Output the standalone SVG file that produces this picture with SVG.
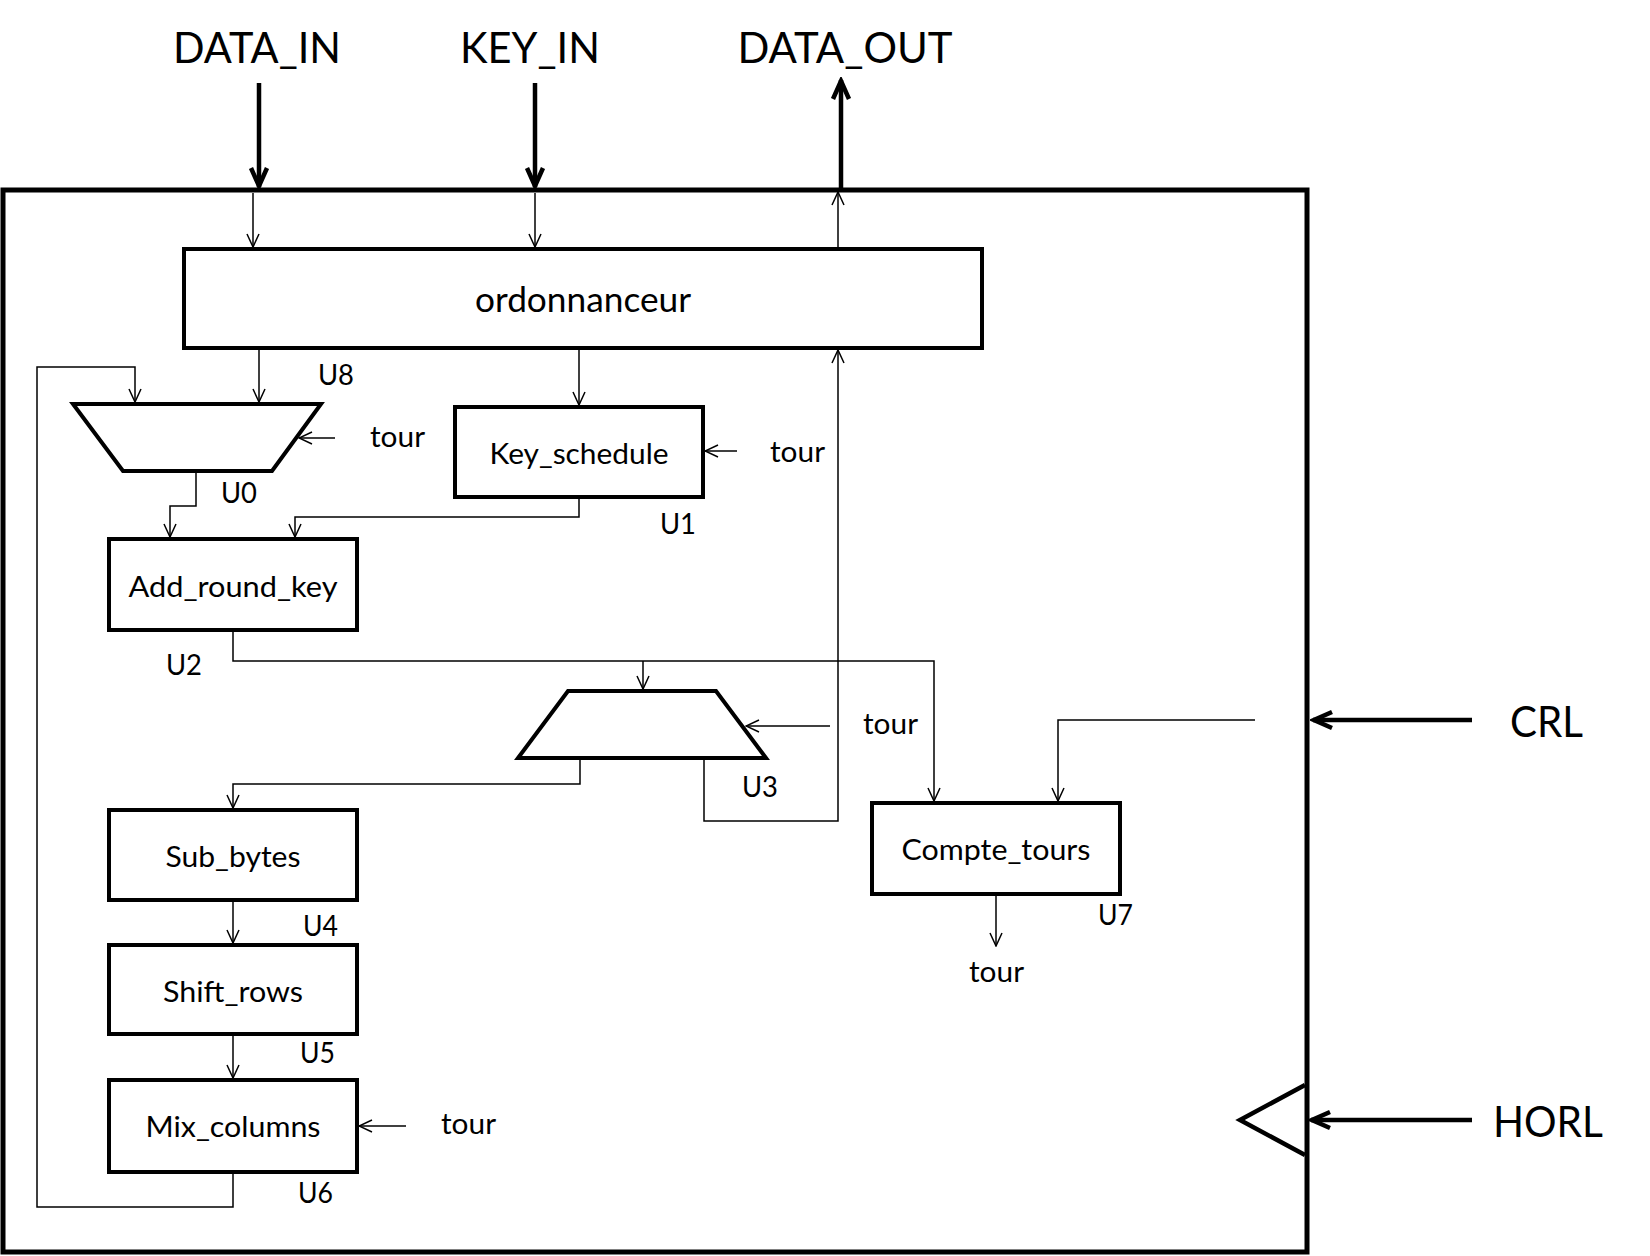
<svg xmlns="http://www.w3.org/2000/svg" width="1650" height="1256" viewBox="0 0 1650 1256">
  <style>
    .box { fill: #fff; stroke: #000; stroke-width: 4; }
    .frame { fill: none; stroke: #000; stroke-width: 5; }
    .wire { fill: none; stroke: #000; stroke-width: 1.5; }
    .bus { fill: none; stroke: #000; stroke-width: 4.5; }
    text { font-family: Lato, "Open Sans", "Liberation Sans", sans-serif; fill: #000; }
    .big { font-size: 43px; }
    .title { font-size: 34px; text-anchor: middle; }
    .name { font-size: 29.5px; text-anchor: middle; }
    .ref { font-size: 29px; }
    .sig { font-size: 29.5px; }
  </style>
  <defs>
    <marker id="arr" markerUnits="userSpaceOnUse" viewBox="0 0 16 16" refX="15" refY="8" markerWidth="16" markerHeight="16" orient="auto">
      <path d="M2,2 L15,8 L2,14" fill="none" stroke="#000" stroke-width="1.5"/>
    </marker>
    <marker id="arrBold" markerUnits="userSpaceOnUse" viewBox="0 0 26 24" refX="23" refY="12" markerWidth="26" markerHeight="24" orient="auto">
      <path d="M4,4 L22,12 L4,20" fill="none" stroke="#000" stroke-width="4.5" stroke-linejoin="miter"/>
    </marker>
  </defs>

  <!-- top-level entity frame -->
  <g id="frame">
    <rect class="frame" x="3" y="190" width="1304" height="1062"/>
    <polyline class="bus" points="1305,1085 1240,1120 1305,1155" stroke-width="4"/>
  </g>

  <!-- components -->
  <g id="U8">
    <rect class="box" x="184" y="249" width="798" height="99"/>
    <text class="title" x="583" y="312" textLength="216" lengthAdjust="spacingAndGlyphs">ordonnanceur</text>
    <text class="ref" x="318" y="385" textLength="36" lengthAdjust="spacingAndGlyphs">U8</text>
  </g>
  <g id="U0">
    <polygon class="box" points="73,404 321,404 272,471 123,471"/>
    <text class="ref" x="221" y="503" textLength="36" lengthAdjust="spacingAndGlyphs">U0</text>
  </g>
  <g id="U1">
    <rect class="box" x="455" y="407" width="248" height="90"/>
    <text class="name" x="579" y="464" textLength="179" lengthAdjust="spacingAndGlyphs">Key_schedule</text>
    <text class="ref" x="660" y="534" textLength="36" lengthAdjust="spacingAndGlyphs">U1</text>
  </g>
  <g id="U2">
    <rect class="box" x="109" y="539" width="248" height="91"/>
    <text class="name" x="233" y="597" textLength="209" lengthAdjust="spacingAndGlyphs">Add_round_key</text>
    <text class="ref" x="166" y="675" textLength="36" lengthAdjust="spacingAndGlyphs">U2</text>
  </g>
  <g id="U3">
    <polygon class="box" points="568,691 716,691 766,758 518,758"/>
    <text class="ref" x="742" y="797" textLength="36" lengthAdjust="spacingAndGlyphs">U3</text>
  </g>
  <g id="U4">
    <rect class="box" x="109" y="810" width="248" height="90"/>
    <text class="name" x="233" y="867" textLength="135" lengthAdjust="spacingAndGlyphs">Sub_bytes</text>
    <text class="ref" x="303" y="936" textLength="35" lengthAdjust="spacingAndGlyphs">U4</text>
  </g>
  <g id="U5">
    <rect class="box" x="109" y="945" width="248" height="89"/>
    <text class="name" x="233" y="1002" textLength="140" lengthAdjust="spacingAndGlyphs">Shift_rows</text>
    <text class="ref" x="300" y="1063" textLength="35" lengthAdjust="spacingAndGlyphs">U5</text>
  </g>
  <g id="U6">
    <rect class="box" x="109" y="1080" width="248" height="92"/>
    <text class="name" x="233" y="1137" textLength="175" lengthAdjust="spacingAndGlyphs">Mix_columns</text>
    <text class="ref" x="298" y="1203" textLength="35" lengthAdjust="spacingAndGlyphs">U6</text>
  </g>
  <g id="U7">
    <rect class="box" x="872" y="803" width="248" height="91"/>
    <text class="name" x="996" y="860" textLength="189" lengthAdjust="spacingAndGlyphs">Compte_tours</text>
    <text class="ref" x="1098" y="925" textLength="35" lengthAdjust="spacingAndGlyphs">U7</text>
  </g>

  <!-- port names and signal labels -->
  <g id="labels">
    <text class="big" x="257" y="63" text-anchor="middle" textLength="168" lengthAdjust="spacingAndGlyphs">DATA_IN</text>
    <text class="big" x="530" y="63" text-anchor="middle" textLength="140" lengthAdjust="spacingAndGlyphs">KEY_IN</text>
    <text class="big" x="845" y="63" text-anchor="middle" textLength="215" lengthAdjust="spacingAndGlyphs">DATA_OUT</text>
    <text class="big" x="1510" y="737" textLength="73" lengthAdjust="spacingAndGlyphs">CRL</text>
    <text class="big" x="1493" y="1137" textLength="110" lengthAdjust="spacingAndGlyphs">HORL</text>
    <text class="sig" x="370" y="447" textLength="55" lengthAdjust="spacingAndGlyphs">tour</text>
    <text class="sig" x="770" y="462" textLength="55" lengthAdjust="spacingAndGlyphs">tour</text>
    <text class="sig" x="863" y="734" textLength="55" lengthAdjust="spacingAndGlyphs">tour</text>
    <text class="sig" x="441" y="1134" textLength="55" lengthAdjust="spacingAndGlyphs">tour</text>
    <text class="sig" x="969" y="982" textLength="55" lengthAdjust="spacingAndGlyphs">tour</text>
  </g>

  <!-- connectors -->
  <g id="connectors">
    <!-- external ports -->
    <path class="bus" d="M259,83 V187" marker-end="url(#arrBold)"/>
    <path class="bus" d="M535,83 V187" marker-end="url(#arrBold)"/>
    <path class="bus" d="M841,190 V80" marker-end="url(#arrBold)"/>
    <path class="bus" d="M1472,720 H1313" marker-end="url(#arrBold)"/>
    <path class="bus" d="M1472,1120 H1311" marker-end="url(#arrBold)"/>

    <!-- internal wiring -->
    <path class="wire" d="M253,193 V247" marker-end="url(#arr)"/>
    <path class="wire" d="M535,193 V247" marker-end="url(#arr)"/>
    <path class="wire" d="M838,247 V192" marker-end="url(#arr)"/>
    <path class="wire" d="M259,350 V402" marker-end="url(#arr)"/>
    <path class="wire" d="M579,350 V405" marker-end="url(#arr)"/>
    <path class="wire" d="M233,1174 V1207 H37 V367 H135 V402" marker-end="url(#arr)"/>
    <path class="wire" d="M335,438 H299" marker-end="url(#arr)"/>
    <path class="wire" d="M196,473 V506 H170 V537" marker-end="url(#arr)"/>
    <path class="wire" d="M579,499 V517 H295 V537" marker-end="url(#arr)"/>
    <path class="wire" d="M737,451 H705" marker-end="url(#arr)"/>
    <path class="wire" d="M233,632 V661 H934 V801" marker-end="url(#arr)"/>
    <path class="wire" d="M643,661 V689" marker-end="url(#arr)"/>
    <path class="wire" d="M830,726 H746" marker-end="url(#arr)"/>
    <path class="wire" d="M580,760 V784 H233 V808" marker-end="url(#arr)"/>
    <path class="wire" d="M704,760 V821 H838 V350" marker-end="url(#arr)"/>
    <path class="wire" d="M1255,720 H1058 V801" marker-end="url(#arr)"/>
    <path class="wire" d="M996,896 V946" marker-end="url(#arr)"/>
    <path class="wire" d="M233,902 V943" marker-end="url(#arr)"/>
    <path class="wire" d="M233,1036 V1078" marker-end="url(#arr)"/>
    <path class="wire" d="M406,1126 H359" marker-end="url(#arr)"/>
  </g>
</svg>
